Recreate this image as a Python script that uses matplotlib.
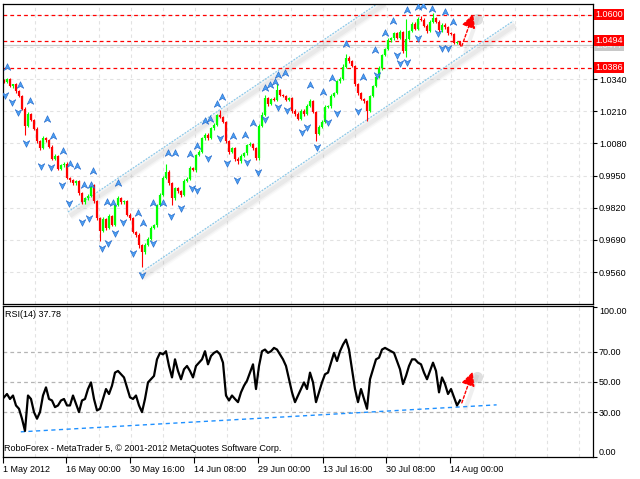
import numpy as np
import matplotlib
matplotlib.use("Agg")
import matplotlib.pyplot as plt
from matplotlib.path import Path
from matplotlib.markers import MarkerStyle
from matplotlib.transforms import offset_copy, blended_transform_factory

plt.rcParams["font.family"] = ["Liberation Sans", "DejaVu Sans"]

# -----------------------------
# Data (H4 series, one value per bar)
# -----------------------------
first_open = 1.0335

close = [
    1.0329, 1.0341, 1.0310, 1.0318, 1.0290, 1.0271, 1.0220, 1.0150, 1.0198, 1.0176,
    1.0140, 1.0088, 1.0061, 1.0101, 1.0092, 1.0066, 1.0018, 1.0030, 0.9978, 0.9992,
    0.9998, 0.9940, 0.9931, 0.9918, 0.9926, 0.9878, 0.9842, 0.9858, 0.9866, 0.9912,
    0.9846, 0.9778, 0.9726, 0.9774, 0.9738, 0.9786, 0.9752, 0.9830, 0.9858, 0.9842,
    0.9848, 0.9792, 0.9778, 0.9722, 0.9710, 0.9668, 0.9642, 0.9670, 0.9695, 0.9740,
    0.9750, 0.9830, 0.9872, 0.9940, 0.9966, 0.9920, 0.9858, 0.9898, 0.9886, 0.9872,
    0.9928, 0.9938, 0.9980, 0.9972, 1.0032, 1.0046, 1.0100, 1.0115, 1.0100, 1.0141,
    1.0156, 1.0193, 1.0186, 1.0168, 1.0088, 1.0046, 1.0060, 1.0018, 1.0008, 1.0030,
    1.0040, 1.0072, 1.0076, 1.0060, 1.0020, 1.0150, 1.0196, 1.0262, 1.0238, 1.0260,
    1.0256, 1.0294, 1.0276, 1.0272, 1.0256, 1.0262, 1.0210, 1.0200, 1.0180, 1.0212,
    1.0198, 1.0232, 1.0250, 1.0208, 1.0118, 1.0148, 1.0168, 1.0228, 1.0230, 1.0272,
    1.0282, 1.0330, 1.0342, 1.0390, 1.0424, 1.0412, 1.0394, 1.0318, 1.0282, 1.0260,
    1.0250, 1.0210, 1.0272, 1.0310, 1.0350, 1.0384, 1.0436, 1.0460, 1.0496, 1.0504,
    1.0524, 1.0506, 1.0530, 1.0452, 1.0503, 1.0532, 1.0564, 1.0544, 1.0582, 1.0580,
    1.0556, 1.0532, 1.0572, 1.0586, 1.0572, 1.0536, 1.0560, 1.0550, 1.0524, 1.0522,
    1.0486, 1.0490, 1.0477,
]

# upper / lower shadow of each candle, in pips
wick_up = [
    6, 4, 5, 3, 6, 4, 5, 8, 7, 5,
    4, 6, 5, 8, 5, 4, 6, 5, 4, 6,
    7, 5, 4, 6, 5, 4, 6, 5, 8, 6,
    5, 4, 6, 7, 5, 8, 4, 6, 9, 5,
    4, 5, 6, 4, 5, 6, 5, 7, 6, 8,
    5, 6, 7, 8, 29, 5, 4, 6, 7, 5,
    6, 5, 7, 6, 5, 8, 6, 7, 5, 6,
    7, 6, 20, 5, 4, 6, 5, 4, 7, 5,
    6, 7, 8, 5, 4, 7, 9, 12, 6, 5,
    7, 28, 6, 5, 4, 6, 5, 7, 6, 5,
    6, 8, 9, 5, 4, 6, 7, 6, 5, 8,
    7, 6, 8, 9, 16, 7, 5, 4, 6, 5,
    4, 6, 5, 7, 6, 8, 7, 6, 8, 7,
    6, 5, 8, 5, 80, 7, 6, 5, 8, 13,
    5, 6, 7, 21, 6, 5, 8, 6, 5, 4,
    5, 4, 3,
]
wick_dn = [
    5, 6, 4, 5, 6, 5, 7, 36, 5, 6,
    5, 6, 7, 4, 5, 6, 5, 4, 6, 5,
    6, 5, 7, 5, 6, 8, 9, 5, 6, 4,
    6, 7, 40, 5, 8, 6, 7, 5, 4, 6,
    5, 6, 7, 5, 8, 9, 61, 7, 5, 4,
    5, 6, 4, 5, 6, 7, 28, 5, 6, 8,
    5, 4, 6, 5, 7, 5, 4, 6, 5, 4,
    6, 5, 4, 6, 7, 9, 6, 8, 10, 6,
    5, 6, 4, 7, 9, 6, 5, 4, 6, 5,
    4, 5, 6, 5, 4, 6, 7, 8, 6, 5,
    6, 5, 4, 7, 28, 6, 5, 7, 4, 6,
    5, 4, 6, 5, 4, 6, 5, 7, 8, 6,
    7, 41, 5, 6, 4, 5, 6, 5, 4, 6,
    5, 6, 4, 8, 25, 5, 4, 6, 5, 4,
    6, 5, 4, 5, 6, 7, 5, 6, 5, 6,
    5, 6, 5,
]

# Bill Williams fractals (bar position, marker price)
frac_up_bar = [0.9, 5.3, 8.7, 14.2, 16.4, 19.6, 22.0, 24.4, 26.7, 28.9,
               29.8, 34.2, 36.4, 38.1, 44.8, 46.2, 49.6, 53.1, 54.8, 57.0,
               62.0, 64.4, 67.0, 68.7, 70.9, 72.6, 76.4, 80.3, 83.1, 87.0,
               88.7, 90.3, 91.4, 93.7, 102.0, 106.4, 109.2, 114.0, 119.8, 123.7,
               127.0, 129.8, 134.2, 138.1, 139.8, 142.6, 147.0, 149.8]
frac_up_price = [1.0390, 1.0316, 1.0252, 1.0177, 1.0110, 1.0050, 0.9997, 0.9989, 0.9912, 0.9912,
                 0.9970, 0.9844, 0.9838, 0.9921, 0.9800, 0.9760, 0.9838, 0.9840, 1.0042, 1.0042,
                 1.0037, 1.0071, 1.0172, 1.0177, 1.0239, 1.0266, 1.0110, 1.0114, 1.0161, 1.0302,
                 1.0316, 1.0329, 1.0356, 1.0363, 1.0316, 1.0289, 1.0343, 1.0481, 1.0349, 1.0457,
                 1.0525, 1.0576, 1.0619, 1.0632, 1.0635, 1.0622, 1.0612, 1.0572]
frac_dn_bar = [0.3, 2.6, 4.8, 7.3, 12.2, 15.6, 19.2, 21.7, 25.9, 28.4,
               32.6, 34.8, 37.0, 39.8, 43.1, 45.9, 49.8, 55.6, 59.0, 62.6,
               64.4, 68.1, 72.0, 74.4, 77.6, 80.9, 84.8, 87.0, 91.4, 94.2,
               99.2, 100.9, 104.2, 108.1, 110.9, 118.1, 124.2, 130.9, 132.0, 134.2,
               138.1, 144.8, 145.9, 148.1]
frac_dn_price = [1.0275, 1.0248, 1.0208, 1.0080, 0.9989, 0.9986, 0.9912, 0.9838, 0.9764, 0.9777,
                 0.9656, 0.9679, 0.9717, 0.9764, 0.9638, 0.9548, 0.9676, 0.9787, 0.9818, 0.9898,
                 0.9892, 1.0020, 1.0100, 0.9999, 0.9932, 1.0006, 0.9966, 1.0177, 1.0226, 1.0215,
                 1.0127, 1.0145, 1.0064, 1.0168, 1.0204, 1.0212, 1.0356, 1.0437, 1.0406, 1.0410,
                 1.0504, 1.0525, 1.0464, 1.0464]

rsi = [
    39.8, 42.0, 38.7, 41.0, 34.4, 32.2, 25.6, 17.5, 41.0, 38.7,
    30.0, 25.6, 30.0, 41.0, 46.4, 38.7, 37.7, 33.3, 34.4, 37.7,
    38.7, 34.4, 34.4, 41.0, 35.5, 30.0, 37.7, 38.7, 45.3, 49.7,
    38.7, 31.1, 32.2, 38.7, 45.3, 42.0, 47.5, 56.2, 57.3, 55.1,
    53.0, 46.4, 39.8, 38.7, 41.0, 34.4, 30.0, 38.7, 49.7, 51.8,
    54.0, 65.0, 69.3, 68.3, 70.4, 60.6, 53.0, 65.0, 57.3, 51.8,
    58.4, 60.6, 57.3, 53.0, 60.6, 62.8, 65.0, 70.4, 61.7, 67.2,
    69.3, 70.4, 68.3, 62.8, 41.0, 37.7, 41.0, 38.7, 36.6, 43.1,
    47.5, 50.8, 56.2, 61.7, 45.3, 60.6, 70.4, 71.5, 69.3, 70.4,
    72.6, 71.5, 68.3, 65.0, 60.6, 51.8, 43.1, 36.6, 41.0, 45.3,
    49.7, 45.3, 56.2, 49.7, 36.6, 43.1, 49.7, 55.1, 56.2, 62.8,
    69.3, 63.9, 70.4, 74.8, 78.1, 71.5, 58.4, 45.3, 36.6, 45.3,
    38.7, 32.2, 51.8, 58.4, 65.0, 66.1, 71.5, 72.6, 71.5, 70.4,
    69.3, 63.9, 58.4, 48.6, 54.0, 60.6, 65.0, 65.0, 62.8, 61.7,
    56.2, 51.8, 57.3, 62.8, 57.3, 43.1, 53.0, 48.6, 42.0, 45.3,
    39.8, 34.4, 37.78,
]

levels = [1.0600, 1.0494, 1.0386]
last_price = 1.0477
price_ticks = [0.9560, 0.9690, 0.9820, 0.9950, 1.0080, 1.0210, 1.0340]
grid_prices = price_ticks + [1.0470, 1.0600]
rsi_ticks = [0, 30, 50, 70, 100]
rsi_levels = [30, 50, 70]

date_labels = ["1 May 2012", "16 May 00:00", "30 May 16:00", "14 Jun 08:00",
               "29 Jun 00:00", "13 Jul 16:00", "30 Jul 08:00", "14 Aug 00:00"]
date_bars = [-0.43, 20.67, 42.0, 63.33, 84.67, 106.23, 127.33, 148.67]

# trend channel anchors (bar, price)
chan_upper = ([21.3, 126.3], [0.9803, 1.0659])
chan_lower = ([45.3, 169.7], [0.9556, 1.0574])
rsi_trend = ([5.6, 164.2], [16.9, 34.8])
arrow_price = ([152.6, 156.4], [1.0473, 1.0603])
arrow_rsi = ([152.6, 156.2], [36.1, 56.7])

# -----------------------------
# Prepare candles
# -----------------------------
close = np.array(close)
n = len(close)
x = np.arange(n)
opens = np.concatenate([[first_open], close[:-1]])
highs = np.maximum(opens, close) + np.array(wick_up) * 0.0001
lows = np.minimum(opens, close) - np.array(wick_dn) * 0.0001
up_bar = close >= opens
colors = np.where(up_bar, "#00FF00", "#FF0000")

arrow_verts = [(0, 1), (0.85, -0.75), (0, -0.25), (-0.85, -0.75), (0, 1)]
arrow_codes = [Path.MOVETO, Path.LINETO, Path.LINETO, Path.LINETO, Path.CLOSEPOLY]
up_marker = Path(arrow_verts, arrow_codes)
dn_marker = Path([(a, -b) for a, b in arrow_verts], arrow_codes)

# -----------------------------
# Figure
# -----------------------------
fig = plt.figure(figsize=(6.4, 4.79), dpi=100)
fig.patch.set_facecolor("white")
ax = fig.add_axes([0.00422, 0.36534, 0.92188, 0.62630])
ax2 = fig.add_axes([0.00422, 0.04530, 0.92188, 0.31587])

xmin, xmax = -0.43, 196.23
ax.set_xlim(xmin, xmax)
ax.set_ylim(0.9431, 1.0643)
ax2.set_xlim(xmin, xmax)
ax2.set_ylim(0, 100.4)

grid_x = [xmin + 32 / 3 * k for k in range(1, 19)]
for a in (ax, ax2):
    for gx in grid_x:
        a.axvline(gx, color="#E2E2E2", lw=0.8, ls=(0, (3, 3)), zorder=0)
    for sp in a.spines.values():
        sp.set_color("black")
        sp.set_linewidth(0.9)

for gp in grid_prices:
    ax.axhline(gp, color="#E2E2E2", lw=0.8, ls=(0, (3, 3)), zorder=0)
ax.axhline(last_price, color="#C8C8C8", lw=0.9, zorder=0.5)

# channels with soft shadow
shadow_tr = offset_copy(ax.transData, fig=fig, x=2, y=-4, units="dots")
for cx, cy in (chan_upper, chan_lower):
    for lw, al in ((7, 0.04), (5, 0.06), (3, 0.08)):
        ax.plot(cx, cy, color="gray", lw=lw, alpha=al, transform=shadow_tr,
                solid_capstyle="butt", zorder=1)
    ax.plot(cx, cy, color="#8CC8E8", lw=0.9, ls=(0, (1.5, 1)), zorder=1.2)

# red levels
for lv in levels:
    ax.axhline(lv, color="#FF0000", lw=0.9, ls=(0, (3, 2.5)), zorder=1.5)

# candles
ax.vlines(x, lows, highs, colors=colors, lw=0.8, zorder=2)
ax.vlines(x, opens, close, colors=colors, lw=1.6, zorder=2)

# fractals
ax.plot(frac_up_bar, frac_up_price, ls="none", marker=MarkerStyle(up_marker),
        ms=5.5, mfc="#4A9EF2", mec="#1E64C8", mew=0.4, zorder=3)
ax.plot(frac_dn_bar, frac_dn_price, ls="none", marker=MarkerStyle(dn_marker),
        ms=5.5, mfc="#4A9EF2", mec="#1E64C8", mew=0.4, zorder=3)


def draw_arrow(a, pts):
    (x0, x1), (y0, y1) = pts
    sh = offset_copy(a.transData, fig=fig, x=4, y=-5, units="dots")
    a.plot([x0, x1], [y0, y1], color="gray", lw=3, alpha=0.12, transform=sh, zorder=3)
    a.plot([x1], [y1], "o", color="gray", ms=8, alpha=0.25, mec="none", transform=sh, zorder=3)
    a.annotate("", xy=(x1, y1), xytext=(x0, y0),
               arrowprops=dict(arrowstyle="-|>,head_length=0.7,head_width=0.35",
                               color="#FF0000", lw=1.0, ls=(0, (2, 1.5)),
                               mutation_scale=12, shrinkA=0, shrinkB=0),
               zorder=4)


draw_arrow(ax, arrow_price)

# price axis
ax.set_xticks([])
ax.yaxis.tick_right()
ax.set_yticks(grid_prices)
ax.set_yticklabels([f"{p:.4f}" for p in price_ticks] + ["", ""])
ax.tick_params(axis="y", length=3, width=0.8, labelsize=6.5, pad=1.5)

ylab_tr = blended_transform_factory(ax.transAxes, ax.transData)
ax.text(1.004, last_price, f"{last_price:.4f}", transform=ylab_tr, color="#F0F0F0",
        fontsize=6.5, va="center", ha="left", clip_on=False, zorder=9,
        bbox=dict(boxstyle="square,pad=0.12", fc="#C8C8C8", ec="none"))
for lv in levels:
    ax.text(1.004, lv, f"{lv:.4f}", transform=ylab_tr, color="white",
            fontsize=6.5, va="center", ha="left", clip_on=False, zorder=10,
            bbox=dict(boxstyle="square,pad=0.12", fc="#FF0000", ec="none"))

# -----------------------------
# RSI panel
# -----------------------------
for lv in rsi_levels:
    ax2.axhline(lv, color="#B4B4B4", lw=0.9, ls=(0, (3, 2.5)), zorder=0.5)
ax2.plot(rsi_trend[0], rsi_trend[1], color="#1E90FF", lw=1.0, ls=(0, (3, 2.5)), zorder=1)
ax2.plot(x, rsi, color="black", lw=1.6, zorder=2)
draw_arrow(ax2, arrow_rsi)

ax2.yaxis.tick_right()
ax2.set_yticks(rsi_ticks)
ax2.set_yticklabels([f"{v:.2f}" for v in rsi_ticks])
ax2.tick_params(axis="y", length=3, width=0.8, labelsize=6.5, pad=1.5)
ylabels = ax2.get_yticklabels()
ylabels[0].set_va("bottom")
ylabels[-1].set_va("top")

ax2.set_xticks(date_bars)
ax2.set_xticklabels(date_labels, ha="left")
ax2.tick_params(axis="x", length=4, width=0.8, labelsize=6.5, pad=1.5)

ax2.text(0.004, 0.975, "RSI(14) 37.78", transform=ax2.transAxes, fontsize=6.5,
         va="top", ha="left")
ax2.text(0.003, 0.03, "RoboForex - MetaTrader 5, \u00a9 2001-2012 MetaQuotes Software Corp.",
         transform=ax2.transAxes, fontsize=6.5, va="bottom", ha="left")

fig.savefig("out.png", dpi=100)
